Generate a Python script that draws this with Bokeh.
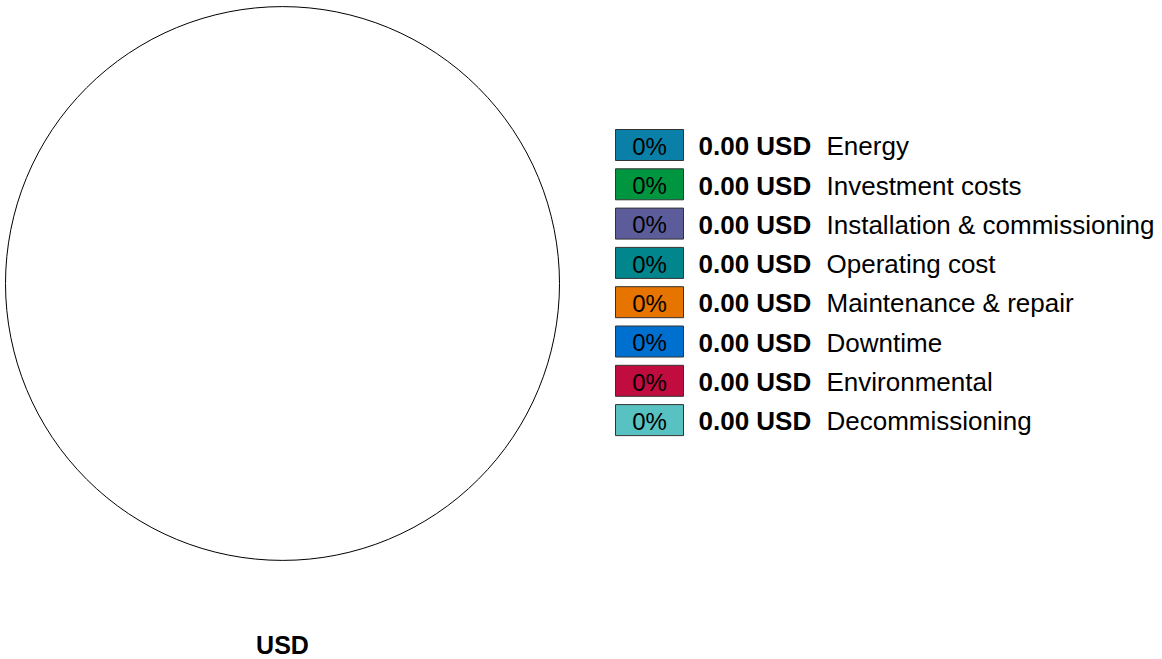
from bokeh.plotting import figure
from bokeh.models import Range1d, ColumnDataSource
from bokeh.core.properties import value
from bokeh.embed import file_html
from bokeh.resources import INLINE
import math

# ---- data ----
categories = [
    "Energy",
    "Investment costs",
    "Installation & commissioning",
    "Operating cost",
    "Maintenance & repair",
    "Downtime",
    "Environmental",
    "Decommissioning",
]
amounts = [0.00, 0.00, 0.00, 0.00, 0.00, 0.00, 0.00, 0.00]
colors = ["#0A80A8", "#009640", "#5C5C9A", "#00868C", "#E87400", "#0070D0", "#C00C3E", "#58C2C2"]
currency = "USD"

# ---- derived ----
total = sum(amounts)
shares = [(a / total * 100.0) if total else 0.0 for a in amounts]
pct_labels = [f"{s:.0f}%" for s in shares]
amount_labels = [f"{a:.2f} {currency}" for a in amounts]

# pie geometry (picture pixels)
cx, cy, r = 282, 283, 277

starts, ends, wcols = [], [], []
acc = 0.0
for a, c in zip(amounts, colors):
    if total > 0 and a > 0:
        s = acc / total * 2 * math.pi
        acc += a
        e = acc / total * 2 * math.pi
        starts.append(math.pi / 2 - e)
        ends.append(math.pi / 2 - s)
        wcols.append(c)

FONT = value("Liberation Sans")

W, H = 1162, 659
p = figure(
    width=W, height=H,
    x_range=Range1d(0, W), y_range=Range1d(H, 0),
    output_backend="svg", toolbar_location=None, min_border=0,
)
p.axis.visible = False
p.grid.visible = False
p.outline_line_color = None
p.background_fill_color = "white"
p.border_fill_color = "white"

# pie outline
p.circle(x=[cx], y=[cy], radius=r, fill_color="white", line_color="#000000", line_width=1)

# slices (only non-zero ones)
wsrc = ColumnDataSource(dict(start=starts, end=ends, color=wcols))
p.wedge(x=cx, y=cy, radius=r, start_angle="start", end_angle="end",
        fill_color="color", line_color="white", source=wsrc)

# legend
row0, dy = 144.5, 39.3
rows = [row0 + dy * i for i in range(len(categories))]
text_rows = [y + 1.2 for y in rows]
src = ColumnDataSource(dict(y=rows, ty=text_rows, color=colors, pct=pct_labels,
                            amt=amount_labels, cat=categories))

p.rect(x=649, y="y", width=68, height=31, fill_color="color", line_color="#333333", line_width=1, source=src)
p.text(x=649, y="ty", text="pct", text_align="center", text_baseline="middle",
       text_font=FONT, text_font_size="24px", text_color="#000000", source=src)
p.text(x=698, y="ty", text="amt", text_align="left", text_baseline="middle",
       text_font=FONT, text_font_size="26px", text_font_style="bold", text_color="#000000", source=src)
p.text(x=826, y="ty", text="cat", text_align="left", text_baseline="middle",
       text_font=FONT, text_font_size="26px", text_color="#000000", source=src)

# currency caption
p.text(x=[cx], y=[644], text=[currency], text_align="center", text_baseline="middle",
       text_font=FONT, text_font_size="25px", text_font_style="bold", text_color="#000000")

open("out.html", "w").write(file_html(p, INLINE))
